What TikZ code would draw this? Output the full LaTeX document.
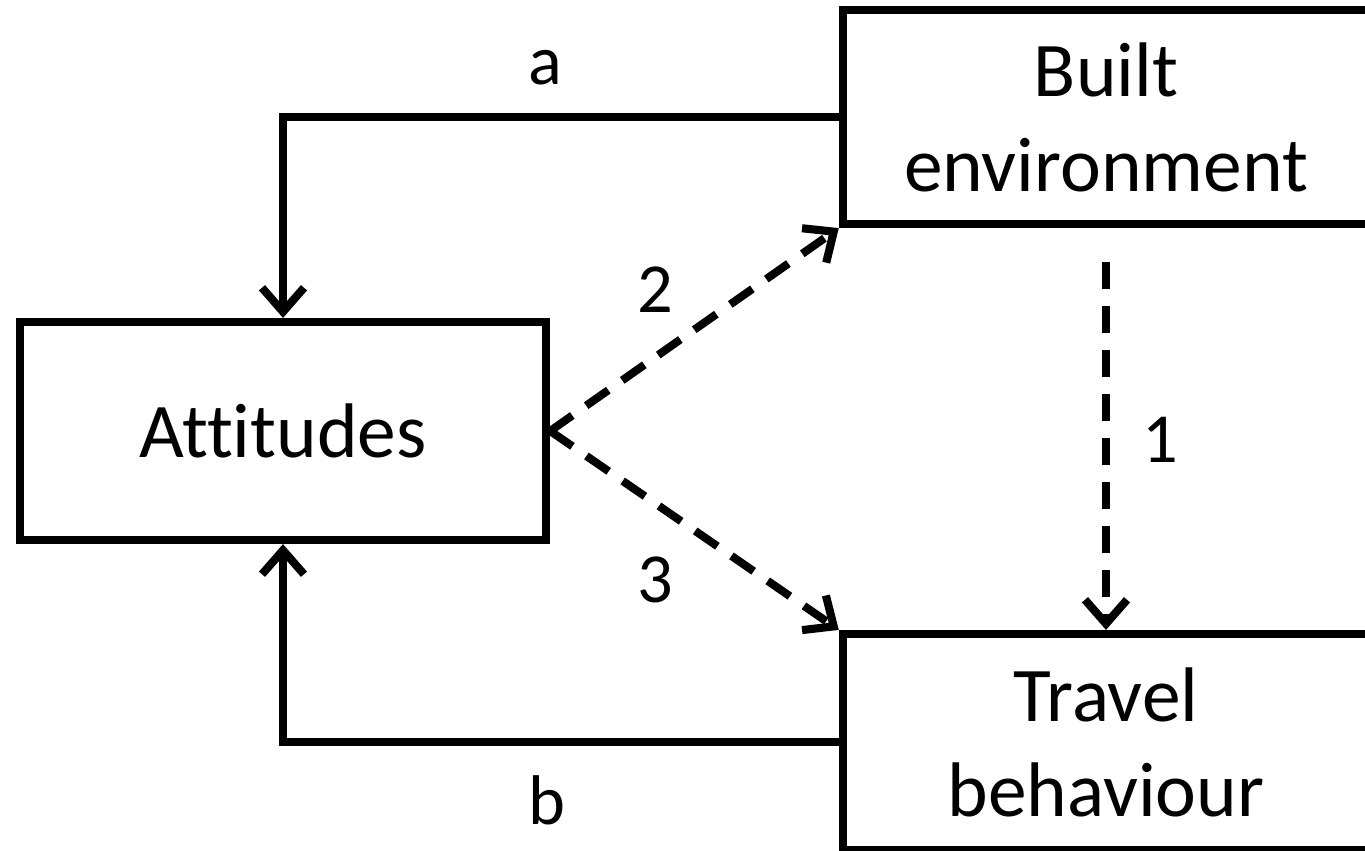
\documentclass[tikz,border=0pt]{standalone}
\usepackage{fontspec}
\setmainfont{Carlito}[Ligatures=NoCommon]
\usepackage{tikz}
\usetikzlibrary{positioning,calc,arrows.meta}

\begin{document}
\begin{tikzpicture}[
    x=0.01cm, y=-0.01cm,
    line width=2.3pt,
    box/.style={rectangle, draw, align=center, inner sep=0pt,
        font=\fontsize{22}{27}\selectfont},
    lbl/.style={font=\fontsize{20}{24}\selectfont, inner sep=0pt},
    link/.style={draw, -{Straight Barb[length=2.4mm,width=4.2mm,line width=2.3pt]}},
    maybe/.style={link, dash pattern=on 0.27cm off 0.17cm}
]
\useasboundingbox (0,0) rectangle (1365,851);
\clip (0,0) rectangle (1365,851);

% the three boxes
\node[box, minimum width=5.26cm, minimum height=2.18cm] (att) at (283,431) {Attitudes};
\node[box, minimum width=5.26cm, minimum height=2.14cm] (be) at (1106,117) {Built\\environment};
\node[box, minimum width=5.26cm, minimum height=2.16cm] (tb) at (1106,742) {Travel\\behaviour};

% feedback paths
\draw[link] (be.west) -| (att.north);
\draw[link] (tb.west) -| (att.south);

% hypothesised effects
\draw[maybe] (att.east) -- (be.south west);
\draw[maybe] (att.east) -- (tb.north west);
\draw[maybe] ([yshift=-0.34cm]be.south) -- (tb.north);

% labels
\node[lbl] (la) at (545,68) {a};
\node[lbl] (lb) at (547,800) {b};
\node[lbl] (l1) at (1160,440) {1};
\node[lbl] (l2) at (655,290) {2};
\node[lbl] (l3) at (655,580) {3};
\end{tikzpicture}
\end{document}
